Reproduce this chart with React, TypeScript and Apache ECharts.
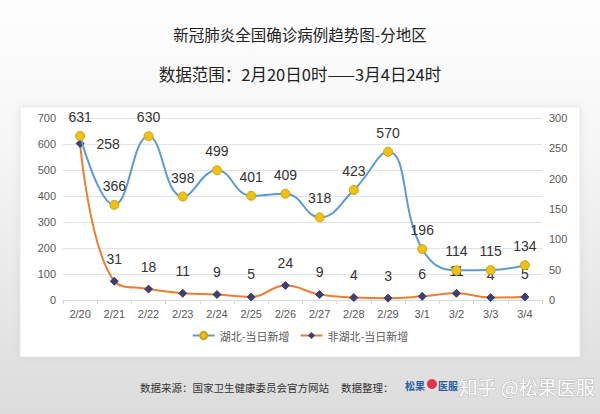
import React, { useEffect, useRef } from "react";
import * as echarts from "echarts";

const categories = ["2/20","2/21","2/22","2/23","2/24","2/25","2/26","2/27","2/28","2/29","3/1","3/2","3/3","3/4"];
const hubei = [631, 366, 630, 398, 499, 401, 409, 318, 423, 570, 196, 114, 115, 134];
const nonHubei = [258, 31, 18, 11, 9, 5, 24, 9, 4, 3, 6, 11, 4, 5];
const leftTicks = { min: 0, max: 700, interval: 100 };
const rightTicks = { min: 0, max: 300, interval: 50 };
const titleText = "新冠肺炎全国确诊病例趋势图-分地区";
const subtitleText = "数据范围：2月20日0时——3月4日24时";
const seriesNames = ["湖北-当日新增", "非湖北-当日新增"];
const footerSource = "数据来源：国家卫生健康委员会官方网站";
const footerArrange = "数据整理：";
const watermark = "知乎 @松果医服";

const CJK = '"Noto Sans CJK SC", "Noto Sans", sans-serif';
const NUM = '"Liberation Sans", Arial, sans-serif';

export default function App() {
  const ref = useRef<HTMLDivElement>(null);
  useEffect(() => {
    if (!ref.current) return;
    const chart = echarts.init(ref.current, null, { renderer: "svg" });
    chart.setOption({
      animation: false,
      backgroundColor: {
        type: "linear", x: 0, y: 0, x2: 0, y2: 1,
        colorStops: [
          { offset: 0, color: "#fefefe" },
          { offset: 0.35, color: "#f6f6f6" },
          { offset: 1, color: "#dcdcdc" },
        ],
      },
      title: [
        { text: titleText, left: "center", top: 21, textStyle: { fontFamily: CJK, fontSize: 15.5, fontWeight: "normal", color: "#222" } },
        { text: subtitleText, left: "center", top: 61, textStyle: { fontFamily: CJK, fontSize: 16.5, fontWeight: "normal", color: "#222" } },
      ],
      graphic: [
        { type: "rect", z: -10, shape: { x: 20, y: 107, width: 560, height: 250 }, style: { fill: "#ffffff", stroke: "#e8e8e8", lineWidth: 1, shadowBlur: 6, shadowColor: "rgba(0,0,0,0.08)" } },
        { type: "text", left: 140, top: 382, style: { text: footerSource, fontFamily: CJK, fontSize: 10.5, fill: "#333" } },
        { type: "text", left: 341, top: 382, style: { text: footerArrange, fontFamily: CJK, fontSize: 10.5, fill: "#333" } },
        { type: "text", left: 405, top: 380, style: { text: "松果", fontFamily: CJK, fontSize: 10, fill: "#2a5d9f", fontWeight: "bold" } },
        { type: "circle", shape: { cx: 432, cy: 384, r: 5 }, style: { fill: "#e0344a" } },
        { type: "text", left: 438, top: 380, style: { text: "医服", fontFamily: CJK, fontSize: 10, fill: "#2a5d9f", fontWeight: "bold" } },
        { type: "text", left: 458, top: 376, style: { text: watermark, fontFamily: CJK, fontSize: 19, fill: "#ffffff", stroke: "#b8b8b8", lineWidth: 1 } },
      ],
      legend: {
        bottom: 68, left: "center", itemWidth: 22, itemHeight: 9, itemGap: 10,
        textStyle: { fontFamily: CJK, fontSize: 11, color: "#595959" },
        data: seriesNames,
      },
      grid: { left: 63, right: 58, top: 118, bottom: 114 },
      xAxis: {
        type: "category", data: categories, boundaryGap: true,
        axisLine: { lineStyle: { color: "#d9d9d9" } },
        axisTick: { show: true, length: 4, lineStyle: { color: "#d9d9d9" } },
        axisLabel: { fontFamily: NUM, fontSize: 11, color: "#595959", margin: 8 },
      },
      yAxis: [
        {
          type: "value", ...leftTicks,
          axisLine: { show: false }, axisTick: { show: false },
          splitLine: { lineStyle: { color: "#e3e3e3" } },
          axisLabel: { fontFamily: NUM, fontSize: 11, color: "#595959", margin: 7 },
        },
        {
          type: "value", ...rightTicks, position: "right",
          axisLine: { show: false }, axisTick: { show: false },
          splitLine: { show: false },
          axisLabel: { fontFamily: NUM, fontSize: 11, color: "#595959", margin: 7 },
        },
      ],
      series: [
        {
          name: seriesNames[0], type: "line", yAxisIndex: 0, data: hubei, smooth: 0.45,
          symbol: "circle", symbolSize: 9,
          lineStyle: { color: "#5b9bd5", width: 2 },
          itemStyle: { color: "#f0c20f", borderColor: "#c9a316", borderWidth: 1 },
          label: { show: true, position: "top", distance: 7, fontFamily: NUM, fontSize: 14, color: "#333" },
          z: 3,
        },
        {
          name: seriesNames[1], type: "line", yAxisIndex: 1, data: nonHubei, smooth: 0.45,
          symbol: "diamond", symbolSize: 8,
          lineStyle: { color: "#ed7d31", width: 2 },
          itemStyle: { color: "#3d3f6e", borderColor: "#3d3f6e" },
          label: { show: true, position: "top", distance: 11, fontFamily: NUM, fontSize: 14, color: "#333" },
          labelLayout: (p: any) => p.dataIndex === 0 ? { dx: 28, dy: 23 } : {},
          z: 2,
        },
      ],
    });
    return () => chart.dispose();
  }, []);
  return <div ref={ref} style={{ position: "fixed", left: 0, top: 0, width: 600, height: 414 }} />;
}
